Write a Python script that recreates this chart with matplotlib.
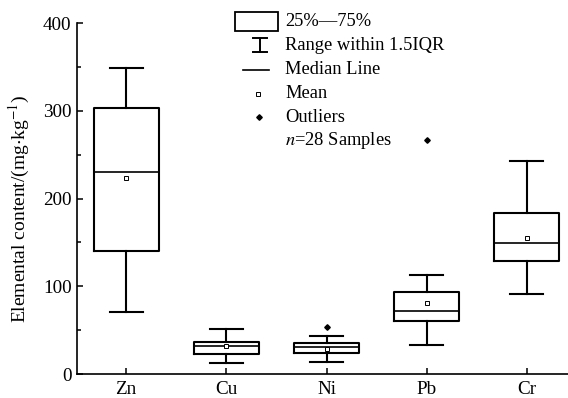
import matplotlib.pyplot as plt
from matplotlib.patches import Rectangle

plt.rcParams['font.family'] = ['Liberation Serif', 'DejaVu Serif']
plt.rcParams['mathtext.fontset'] = 'stix'

# 元素及箱线图统计值 (mg/kg)
elements = ['Zn', 'Cu', 'Ni', 'Pb', 'Cr']
q1 = [140, 23, 24, 60, 129]
med = [230, 32, 31, 72, 149]
q3 = [303, 37, 35, 93, 183]
whislo = [71, 12, 13.5, 33.5, 91]
whishi = [349, 51, 43.5, 113, 243]
means = [223, 32, 29, 80.5, 155]
outliers = [[], [], [53], [267], []]

stats = []
for i in range(len(elements)):
    stats.append(dict(label=elements[i], q1=q1[i], med=med[i], q3=q3[i],
                      whislo=whislo[i], whishi=whishi[i], mean=means[i],
                      fliers=outliers[i]))

fig = plt.figure(figsize=(5.68, 3.98), dpi=100)
ax = fig.add_axes([0.1356, 0.0603, 0.8644, 0.8819])

lw = 1.5
ax.bxp(stats, positions=range(len(elements)), widths=0.65, showmeans=True,
       capwidths=0.33,
       boxprops=dict(color='black', linewidth=lw),
       medianprops=dict(color='black', linewidth=1.2),
       whiskerprops=dict(color='black', linewidth=lw),
       capprops=dict(color='black', linewidth=lw),
       meanprops=dict(marker='s', markersize=3.0, markerfacecolor='white',
                      markeredgecolor='black', markeredgewidth=0.7),
       flierprops=dict(marker='D', markersize=2.8, markerfacecolor='black',
                       markeredgecolor='black'))

ax.set_xlim(-0.49, 4.41)
ax.set_ylim(0, 400)
ax.set_yticks([0, 100, 200, 300, 400])
ax.set_yticks([50, 150, 250, 350], minor=True)
ax.spines['top'].set_visible(False)
ax.spines['right'].set_visible(False)
ax.spines['left'].set_linewidth(1.2)
ax.spines['bottom'].set_linewidth(1.2)
ax.tick_params(axis='both', which='major', direction='in', length=4.5,
               width=1.1, labelsize=13.8)
ax.tick_params(axis='y', which='minor', direction='in', length=3, width=1.1)
ax.tick_params(axis='y', which='major', pad=4)
ax.tick_params(axis='x', which='major', pad=5)
ax.set_ylabel(r'Elemental content/(mg$\cdot$kg$^{-1}$)', fontsize=14)
ax.yaxis.set_label_coords(-0.092, 0.4715)
ax.patch.set_alpha(0)

# 手绘图例 (像素坐标 -> figure 坐标)
W, H = 568.0, 398.0
def fx(px):
    return px / W
def fy(py):
    return 1 - py / H

fig.patches.append(Rectangle((fx(235), fy(31)), fx(278) - fx(235), fy(12) - fy(31),
                             transform=fig.transFigure, fill=False,
                             edgecolor='black', linewidth=1.3))
fig.lines.append(plt.Line2D([fx(260), fx(260)], [fy(38), fy(52)],
                            transform=fig.transFigure, color='black', lw=1.4))
fig.lines.append(plt.Line2D([fx(253), fx(267)], [fy(38), fy(38)],
                            transform=fig.transFigure, color='black', lw=1.4))
fig.lines.append(plt.Line2D([fx(253), fx(267)], [fy(52), fy(52)],
                            transform=fig.transFigure, color='black', lw=1.4))
fig.lines.append(plt.Line2D([fx(243), fx(269)], [fy(70), fy(70)],
                            transform=fig.transFigure, color='black', lw=1.2))
fig.lines.append(plt.Line2D([fx(258)], [fy(94)], transform=fig.transFigure,
                            marker='s', markersize=3.0, markerfacecolor='white',
                            markeredgecolor='black', markeredgewidth=0.7,
                            linestyle='none'))
fig.lines.append(plt.Line2D([fx(259)], [fy(117)], transform=fig.transFigure,
                            marker='D', markersize=2.8, color='black',
                            linestyle='none'))

legend_texts = ['25%\u201475%', 'Range within 1.5IQR', 'Median Line', 'Mean',
                'Outliers', r'$n$=28 Samples']
legend_y = [21, 45, 70, 93, 117, 141]
for t, y in zip(legend_texts, legend_y):
    fig.text(fx(285), fy(y), t, fontsize=13.3, va='center', ha='left')

fig.savefig('out.png', dpi=100)
